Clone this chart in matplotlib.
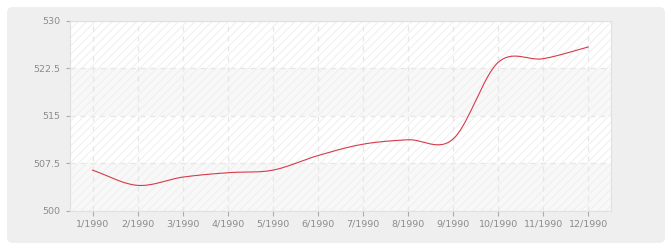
import numpy as np
import matplotlib
matplotlib.use('Agg')
import matplotlib.pyplot as plt
from matplotlib.patches import FancyBboxPatch
from matplotlib.ticker import FuncFormatter

# donnees
mois = ['1/1990', '2/1990', '3/1990', '4/1990', '5/1990', '6/1990',
        '7/1990', '8/1990', '9/1990', '10/1990', '11/1990', '12/1990']
valeurs = [506.4, 504.0, 505.3, 506.0, 506.4, 508.7,
           510.5, 511.2, 511.3, 523.4, 524.0, 525.85]
y_ticks = [500, 507.5, 515, 522.5, 530]


def catmull_rom(x, y, n=30):
    # courbe lissee passant par les points
    x = np.asarray(x, float)
    y = np.asarray(y, float)
    m = np.zeros_like(y)
    m[1:-1] = (y[2:] - y[:-2]) / 2
    m[0] = y[1] - y[0]
    m[-1] = y[-1] - y[-2]
    xs, ys = [], []
    for i in range(len(x) - 1):
        t = np.linspace(0, 1, n, endpoint=(i == len(x) - 2))
        h00 = 2*t**3 - 3*t**2 + 1
        h10 = t**3 - 2*t**2 + t
        h01 = -2*t**3 + 3*t**2
        h11 = t**3 - t**2
        xs.append(x[i] + t * (x[i+1] - x[i]))
        ys.append(h00*y[i] + h10*m[i] + h01*y[i+1] + h11*m[i+1])
    return np.concatenate(xs), np.concatenate(ys)


fig = plt.figure(figsize=(6.7, 2.5), dpi=100)
fig.patch.set_facecolor('white')

# fond gris arrondi
fond = FancyBboxPatch((0.07, 0.07), 6.58, 2.36,
                      boxstyle='round,pad=0,rounding_size=0.06',
                      transform=fig.dpi_scale_trans,
                      facecolor='#efefef', edgecolor='none', zorder=-10)
fig.add_artist(fond)

ax = fig.add_axes([0.1045, 0.1572, 0.807, 0.76])
ax.set_facecolor('white')

plt.rcParams['hatch.linewidth'] = 0.7
x = np.arange(len(mois))
ax.set_xlim(-0.5, len(mois) - 0.5)
ax.set_ylim(y_ticks[0], y_ticks[-1])

# bandes alternees hachurees
for i in range(len(y_ticks) - 1):
    fc = '#f8f8f8' if i % 2 == 0 else 'white'
    ax.axhspan(y_ticks[i], y_ticks[i+1], facecolor=fc, edgecolor='#efefef',
               hatch='////', linewidth=0, zorder=0)

ax.grid(True, color='#e6e6e6', linewidth=0.9, linestyle=(0, (4, 4)), zorder=1)
ax.set_axisbelow(True)

xs, ys = catmull_rom(x, valeurs)
ax.plot(xs, ys, color='#d63a4a', linewidth=0.8, zorder=3)

ax.set_xticks(x)
ax.set_xticklabels(mois)
ax.set_yticks(y_ticks)
ax.yaxis.set_major_formatter(FuncFormatter(lambda v, p: '%g' % v))

ax.tick_params(axis='both', colors='#aaaaaa', labelcolor='#8c8c8c',
               labelsize=6.8, width=0.8)
ax.tick_params(axis='y', length=3.2, pad=3.5)
ax.tick_params(axis='x', length=3.5, pad=3)

for s in ax.spines.values():
    s.set_color('#e0e0e0')
    s.set_linewidth(0.8)

plt.savefig('out.png', dpi=100)
